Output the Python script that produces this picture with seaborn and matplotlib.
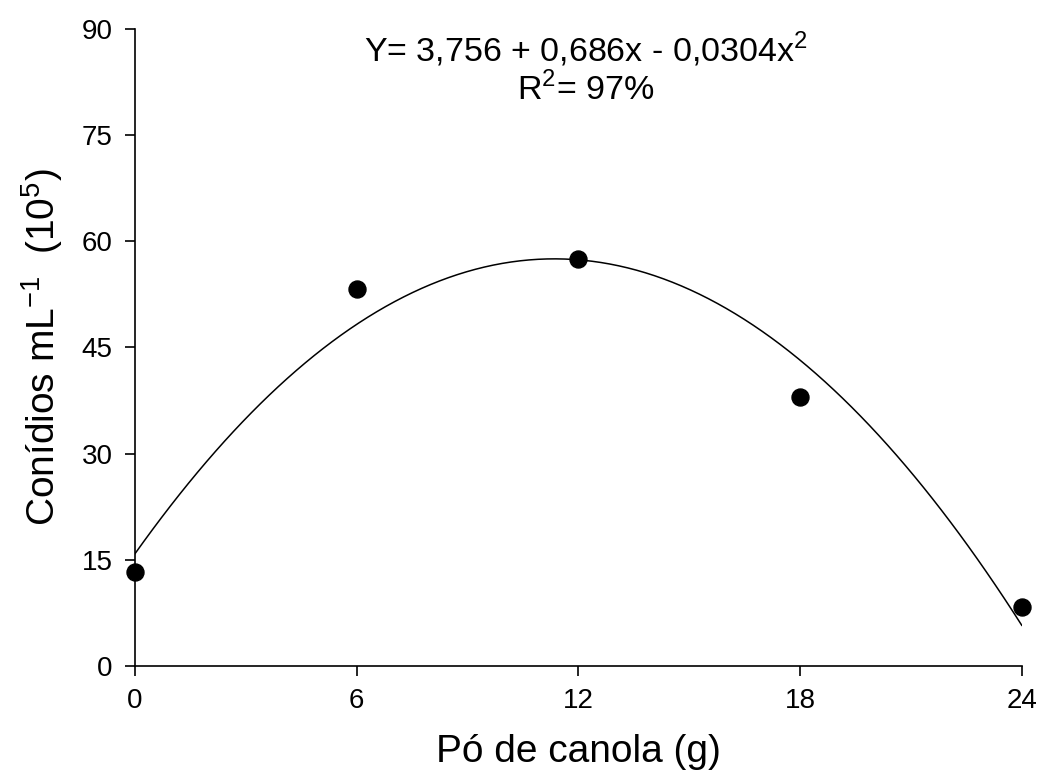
import numpy as np
import pandas as pd
from matplotlib import pyplot as plt
import seaborn as sns

# data
doses = [0, 6, 12, 18, 24]
conidia = [13.3, 53.3, 57.5, 38.0, 8.3]
xTicks = [0, 6, 12, 18, 24]
yTicks = [0, 15, 30, 45, 60, 75, 90]

df = pd.DataFrame({'dose': doses, 'conidia': conidia})

sns.set_style('ticks')
plt.rcParams['font.family'] = ['Liberation Sans', 'DejaVu Sans']
plt.rcParams['mathtext.fontset'] = 'custom'
plt.rcParams['mathtext.rm'] = 'Liberation Sans'
plt.rcParams['text.color'] = 'black'
plt.rcParams['axes.labelcolor'] = 'black'
plt.rcParams['xtick.color'] = 'black'
plt.rcParams['ytick.color'] = 'black'

fig = plt.figure(figsize=(10.37, 7.80), dpi=100)
ax = fig.add_axes([0.130, 0.146, 0.8555, 0.817])

# quadratic fit + points
sns.regplot(data=df, x='dose', y='conidia', order=2, ci=None, truncate=True,
            scatter=False, ax=ax, line_kws={'color': 'black', 'lw': 1.1})
sns.scatterplot(data=df, x='dose', y='conidia', ax=ax, color='black',
                s=150, edgecolor='black', zorder=5, clip_on=False)

ax.set_xlim(0, 24)
ax.set_ylim(0, 90)
ax.set_xticks(xTicks)
ax.set_yticks(yTicks)
ax.tick_params(axis='both', labelsize=20, length=7, width=1.2, colors='black', pad=9)
for s in ['left', 'bottom']:
    ax.spines[s].set_linewidth(1.2)
    ax.spines[s].set_color('black')
sns.despine(ax=ax)

ax.set_xlabel('Pó de canola (g)', fontsize=28, labelpad=14)
ax.set_ylabel('Conídios mL$^{\\mathregular{-1}}$  (10$^5$)', fontsize=28, labelpad=12)

ax.text(0.508, 0.998, 'Y= 3,756 + 0,686x - 0,0304x$^2$', transform=ax.transAxes,
        ha='center', va='top', fontsize=24.5)
ax.text(0.508, 0.932, 'R$^2$= 97%', transform=ax.transAxes,
        ha='center', va='top', fontsize=24.5)

plt.savefig('out.png', dpi=100)
